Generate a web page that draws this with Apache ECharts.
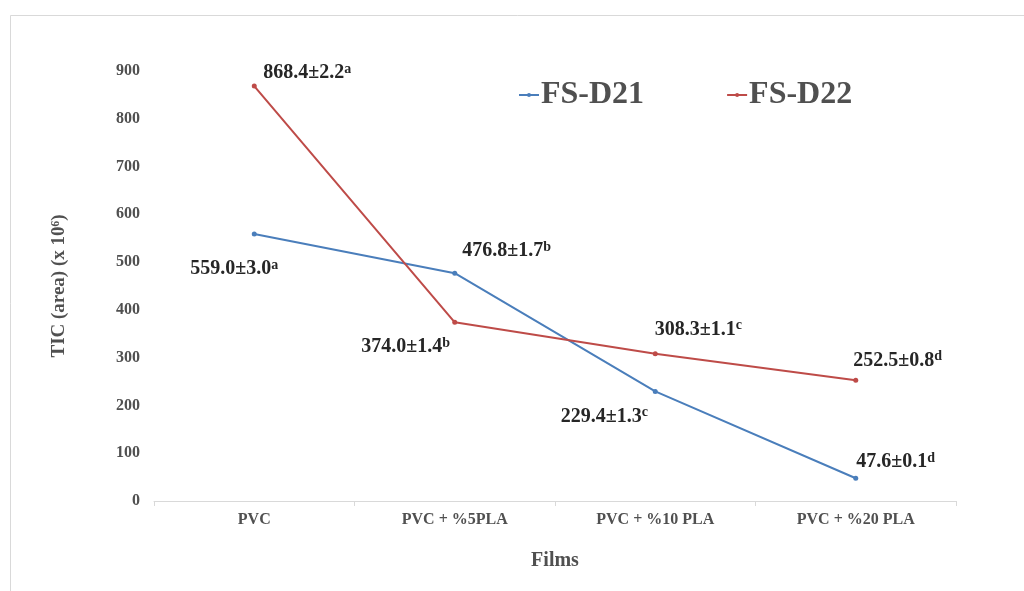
<!DOCTYPE html>
<html>
<head>
<meta charset="utf-8">
<script src="https://cdn.jsdelivr.net/npm/echarts@6/dist/echarts.min.js"></script>
<style>html,body{margin:0;padding:0;background:#fff;}#c{width:1024px;height:591px;}</style>
</head>
<body>
<div id="c"></div>
<script>
var categories = ['PVC', 'PVC + %5PLA', 'PVC + %10 PLA', 'PVC + %20 PLA'];
var d21Values = [559.0, 476.8, 229.4, 47.6];
var d21Errors = ['3.0', '1.7', '1.3', '0.1'];
var d21Letters = ['a', 'b', 'c', 'd'];
var d22Values = [868.4, 374.0, 308.3, 252.5];
var d22Errors = ['2.2', '1.4', '1.1', '0.8'];
var d22Letters = ['a', 'b', 'c', 'd'];
var yTicks = [0, 100, 200, 300, 400, 500, 600, 700, 800, 900];

var d21Offsets = [[-20, 35], [52, -22], [-51, 25], [40, -16]];
var d22Offsets = [[53, -13], [-49, 25], [43, -24], [42, -20]];

var serif = '"Liberation Serif", "Times New Roman", serif';
var rich = {
  b: {fontFamily: serif, fontWeight: 'bold', fontSize: 20, color: '#262626', lineHeight: 22},
  s: {fontFamily: serif, fontWeight: 'bold', fontSize: 14, color: '#262626', verticalAlign: 'top', lineHeight: 22, padding: [0, 0, 10, 0]}
};

function buildData(vals, errs, lets, offs) {
  return vals.map(function (v, i) {
    return {
      value: v,
      label: {
        show: true,
        position: 'inside',
        offset: offs[i],
        formatter: '{b|' + v.toFixed(1) + '±' + errs[i] + '}{s|' + lets[i] + '}',
        rich: rich
      }
    };
  });
}

var chart = echarts.init(document.getElementById('c'));
chart.setOption({
  animation: false,
  backgroundColor: '#fff',
  graphic: [{
    type: 'rect', left: 8, top: 13, shape: {width: 1040, height: 600},
    style: {fill: 'none', stroke: '#d9d9d9', lineWidth: 1}, silent: true, z: -1
  }],
  legend: {
    left: 513, top: 74, itemGap: 82, itemWidth: 20, itemHeight: 5,
    textStyle: {fontFamily: serif, fontWeight: 'bold', fontSize: 32, color: '#505050', padding: [0, 0, 0, -3]},
    data: ['FS-D21', 'FS-D22']
  },
  grid: {left: 154, right: 68, top: 71, bottom: 90},
  xAxis: {
    type: 'category', data: categories, boundaryGap: true,
    name: 'Films', nameLocation: 'middle', nameGap: 50,
    nameTextStyle: {fontFamily: serif, fontWeight: 'bold', fontSize: 20, color: '#505050'},
    axisLine: {lineStyle: {color: '#d9d9d9'}},
    axisTick: {show: true, length: 5, lineStyle: {color: '#d9d9d9'}},
    axisLabel: {fontFamily: serif, fontWeight: 'bold', fontSize: 16, color: '#505050', margin: 11}
  },
  yAxis: {
    type: 'value', min: yTicks[0], max: yTicks[yTicks.length - 1], interval: 100,
    name: 'TIC (area) (x 10⁶)', nameLocation: 'middle', nameGap: 85, nameRotate: 90,
    nameTextStyle: {fontFamily: serif, fontWeight: 'bold', fontSize: 19, color: '#505050'},
    axisLine: {show: false}, axisTick: {show: false}, splitLine: {show: false},
    axisLabel: {fontFamily: serif, fontWeight: 'bold', fontSize: 16, color: '#505050', margin: 14}
  },
  series: [
    {
      name: 'FS-D21', type: 'line', data: buildData(d21Values, d21Errors, d21Letters, d21Offsets),
      symbol: 'circle', symbolSize: 5, color: '#4A7EBB',
      lineStyle: {width: 2, color: '#4A7EBB'}, itemStyle: {color: '#4A7EBB'}
    },
    {
      name: 'FS-D22', type: 'line', data: buildData(d22Values, d22Errors, d22Letters, d22Offsets),
      symbol: 'circle', symbolSize: 5, color: '#BE4B48',
      lineStyle: {width: 2, color: '#BE4B48'}, itemStyle: {color: '#BE4B48'}
    }
  ]
});
</script>
</body>
</html>
